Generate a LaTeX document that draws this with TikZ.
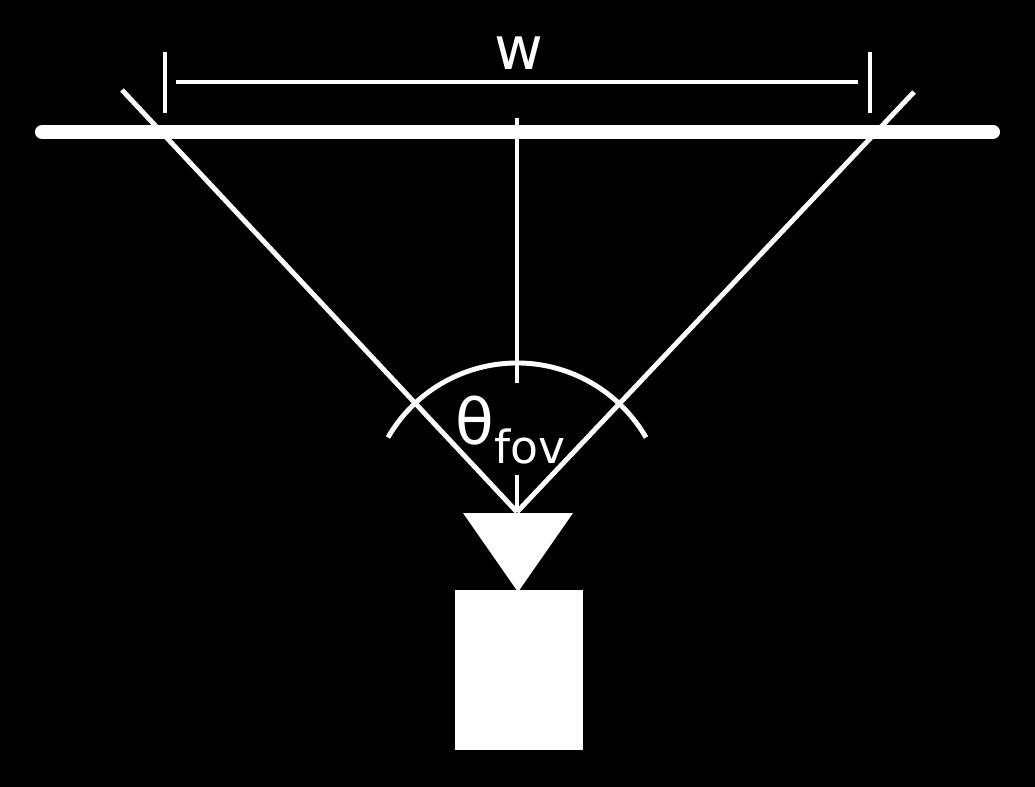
\documentclass[tikz,border=0pt]{standalone}
\usepackage{fontspec}
\setmainfont{DejaVu Sans}
\begin{document}
\begin{tikzpicture}[x=0.02cm,y=-0.02cm]
\tikzset{ray/.style={white,line width=2.8pt},
  lbl/.style={white,inner sep=0pt}}
\fill[black] (0,0) rectangle (1035,787);
\useasboundingbox (0,0) rectangle (1035,787);
% Coordinates
\coordinate (apex) at (517,512);
\coordinate (rayL) at (122,90);
\coordinate (rayR) at (914,92);
% Draw image plane
\draw[white,line width=8pt,line cap=round] (42,132) -- (993,132);
% Draw view rays
\draw[ray] (apex) -- (rayL);
\draw[ray] (apex) -- (rayR);
\draw[ray] (517,118) -- (517,383);
\draw[ray] (517,475) -- (apex);
% Draw angle arc
\draw[ray] (apex) ++(-150:149) arc (-150:-30:149);
% Draw width marker
\draw[ray] (165,52) -- (165,113);
\draw[ray] (870,52) -- (870,113);
\draw[ray] (176,82) -- (858,82);
\node[lbl,font=\fontsize{34}{40}\selectfont] (w) at (519,53) {w};
\node[lbl,font=\fontsize{36}{42}\selectfont] (fov) at (511,430) {θ\textsubscript{\fontsize{26}{30}\selectfont fov}};
% Draw camera
\fill[white] (463,513) -- (573,513) -- (518,592) -- cycle;
\fill[white] (455,590) rectangle (583,750);
\end{tikzpicture}
\end{document}
